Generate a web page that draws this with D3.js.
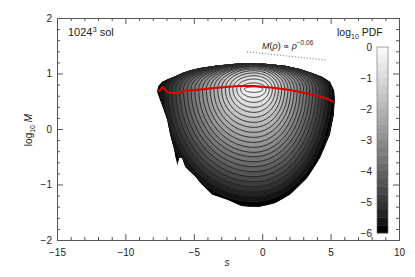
<!DOCTYPE html>
<html>
<head>
<meta charset="utf-8">
<script src="https://cdn.jsdelivr.net/npm/d3@7"></script>
<style>
  body { margin: 0; background: #fff; }
  svg { display: block; }
  text { font-family: "Liberation Sans", Arial, sans-serif; fill: #222; }
</style>
</head>
<body>
<div id="chart"></div>
<script>
// axis ticks
const xMajor = [-15, -10, -5, 0, 5, 10];
const xMinor = [-14, -13, -12, -11, -9, -8, -7, -6, -4, -3, -2, -1, 1, 2, 3, 4, 6, 7, 8, 9];
const yMajor = [-2, -1, 0, 1, 2];
const yMinor = [-1.8, -1.6, -1.4, -1.2, -0.8, -0.6, -0.4, -0.2, 0.2, 0.4, 0.6, 0.8, 1.2, 1.4, 1.6, 1.8];
const cbTicks = [0, -1, -2, -3, -4, -5, -6];

// PDF contour rings (log10 PDF level, extents in s and log10 M)
const ringCenter = [-0.6, 0.72];
const ringLevels = [-0.25, -0.5, -0.75, -1, -1.25, -1.5, -1.75, -2, -2.25, -2.5, -2.75, -3,
  -3.25, -3.5, -3.75, -4, -4.25, -4.5, -4.75, -5, -5.25, -5.5, -5.75, -6];
const ringLeft = [-1.30, -1.58, -1.86, -2.14, -2.41, -2.69, -2.97, -3.25, -3.53, -3.80, -4.08, -4.36,
  -4.64, -4.92, -5.20, -5.47, -5.75, -6.03, -6.31, -6.59, -6.87, -7.14, -7.42, -7.70];
const ringRight = [0.05, 0.28, 0.51, 0.74, 0.96, 1.19, 1.42, 1.65, 1.88, 2.10, 2.33, 2.56,
  2.79, 3.02, 3.25, 3.47, 3.70, 3.93, 4.16, 4.39, 4.62, 4.84, 5.07, 5.30];
const ringTop = [0.76, 0.83, 0.90, 0.96, 1.01, 1.05, 1.08, 1.10, 1.12, 1.13, 1.14, 1.15,
  1.16, 1.165, 1.17, 1.175, 1.18, 1.185, 1.19, 1.195, 1.20, 1.205, 1.21, 1.215];
const ringBottom = [0.66, 0.57, 0.48, 0.39, 0.30, 0.21, 0.12, 0.03, -0.06, -0.15, -0.24, -0.33,
  -0.42, -0.50, -0.59, -0.68, -0.77, -0.86, -0.95, -1.04, -1.13, -1.22, -1.31, -1.40];

// outer edge of the sampled region
const edgeS = [-7.68, -7.60, -7.31, -6.87, -6.36, -5.85, -5.26, -4.53, -3.44, -2.19, -0.88, 0.42,
  1.67, 2.76, 3.64, 4.37, 4.96, 5.25, 5.32, 5.25, 4.96, 4.25, 3.30, 2.05, 0.95, -0.30,
  -1.48, -2.50, -3.67, -4.53, -4.90, -5.41, -5.63, -5.85, -6.07, -6.21, -6.43, -6.72, -6.94, -7.24, -7.46];
const edgeM = [0.67, 0.77, 0.85, 0.90, 0.95, 1.01, 1.06, 1.10, 1.14, 1.17, 1.19, 1.17,
  1.14, 1.08, 1.01, 0.94, 0.85, 0.70, 0.52, 0.25, -0.11, -0.52, -0.88, -1.18, -1.34, -1.41,
  -1.39, -1.28, -1.18, -0.97, -0.85, -0.74, -0.68, -0.52, -0.52, -0.67, -0.38, -0.11, 0.16, 0.38, 0.52];

// mean log10 M in bins of s (red line)
const meanS = [-7.62, -7.25, -6.96, -6.59, -6.15, -5.64, -4.91, -4.18, -3.45, -2.72, -1.62, -0.53,
  0.20, 0.94, 2.03, 3.13, 4.08, 4.81, 5.25];
const meanM = [0.667, 0.757, 0.667, 0.649, 0.649, 0.685, 0.703, 0.721, 0.739, 0.757, 0.775, 0.775,
  0.757, 0.739, 0.703, 0.649, 0.595, 0.541, 0.486];

// power-law guide M ~ rho^-0.06
const guideS = [-1.11, 4.74];
const guideM = [1.39, 1.24];

const W = 415, H = 277;
const x = d3.scaleLinear().domain([-15, 10]).range([57, 399]);
const y = d3.scaleLinear().domain([-2, 2]).range([240, 18]);
const grayLevel = d3.scalePow().exponent(0.8).domain([0, 5.75]).range([0, 248]).clamp(true);
const color = v => { const g = Math.round(grayLevel(v + 5.75)); return d3.rgb(g, g, g).formatHex(); };
const cbY = d3.scaleLinear().domain([0, -6]).range([47, 233]);

const svg = d3.select("#chart").append("svg")
  .attr("width", W).attr("height", H);

const edge = edgeS.map((s, i) => [x(s), y(edgeM[i])]);
svg.append("clipPath").attr("id", "edgeclip")
  .append("path").attr("d", d3.line().curve(d3.curveLinearClosed)(edge));

function ringPath(i) {
  const s0 = ringCenter[0], m0 = ringCenter[1];
  const pts = [];
  for (let a = 0; a < 360; a += 3) {
    const t = a * Math.PI / 180, c = Math.cos(t), sn = -Math.sin(t);
    const rx = c >= 0 ? ringRight[i] - s0 : s0 - ringLeft[i];
    const ry = sn >= 0 ? ringTop[i] - m0 : m0 - ringBottom[i];
    pts.push([
      x(s0 + rx * c),
      y(m0 + ry * sn)
    ]);
  }
  return d3.line().curve(d3.curveLinearClosed)(pts);
}

const field = svg.append("g").attr("clip-path", "url(#edgeclip)");
field.append("path")
  .attr("d", d3.line().curve(d3.curveLinearClosed)(edge))
  .attr("fill", "#000");
field.selectAll("path.ring")
  .data(d3.range(ringLevels.length).reverse())
  .join("path")
  .attr("class", "ring")
  .attr("d", i => ringPath(i))
  .attr("fill", i => color(ringLevels[i] + 0.25))
  .attr("stroke", "#222")
  .attr("stroke-width", 0.9);

// mean line
svg.append("path")
  .datum(meanS.map((s, i) => [s, meanM[i]]))
  .attr("fill", "none")
  .attr("stroke", "#dd0000")
  .attr("stroke-width", 2)
  .attr("d", d3.line().x(d => x(d[0])).y(d => y(d[1])));

// guide
svg.append("line")
  .attr("x1", x(guideS[0])).attr("y1", y(guideM[0]))
  .attr("x2", x(guideS[1])).attr("y2", y(guideM[1]))
  .attr("stroke", "#444").attr("stroke-width", 0.8)
  .attr("stroke-dasharray", "1,2");

const ann = svg.append("text").attr("x", 262).attr("y", 49).attr("font-size", 9);
ann.append("tspan").attr("font-style", "italic").text("M");
ann.append("tspan").text("(");
ann.append("tspan").attr("font-style", "italic").text("ρ");
ann.append("tspan").text(") ∝ ");
ann.append("tspan").attr("font-style", "italic").text("ρ");
ann.append("tspan").attr("font-size", 6.5).attr("dy", -4).text("−0.06");

// colorbar
svg.append("g").selectAll("rect")
  .data(ringLevels)
  .join("rect")
  .attr("x", 377).attr("width", 11)
  .attr("y", d => cbY(d + 0.25))
  .attr("height", d => cbY(d) - cbY(d + 0.25) + 0.3)
  .attr("fill", d => color(d + 0.25));
svg.append("rect")
  .attr("x", 377).attr("y", cbY(0)).attr("width", 11).attr("height", cbY(-6) - cbY(0))
  .attr("fill", "none").attr("stroke", "#666").attr("stroke-width", 0.6);
svg.append("g").selectAll("text")
  .data(cbTicks)
  .join("text")
  .attr("x", 372).attr("y", d => cbY(d)).attr("dy", "0.35em")
  .attr("text-anchor", "end").attr("font-size", 10)
  .text(d => d3.format("d")(d));

const cbTitle = svg.append("text").attr("x", 337).attr("y", 36).attr("font-size", 10.5);
cbTitle.append("tspan").text("log");
cbTitle.append("tspan").attr("font-size", 7).attr("dy", 2.5).text("10");
cbTitle.append("tspan").attr("dy", -2.5).text(" PDF");

// axes
function styleAxis(g) {
  g.selectAll("path.domain").attr("stroke", "#555");
  g.selectAll(".tick line").attr("stroke", "#555");
  g.selectAll(".tick text").attr("font-size", 10).attr("fill", "#222")
    .attr("font-family", "Liberation Sans, Arial, sans-serif");
}
const fmt = d3.format("d");
svg.append("g").attr("transform", "translate(0,240)")
  .call(d3.axisBottom(x).tickValues(xMajor).tickSize(-6).tickSizeOuter(0).tickPadding(9).tickFormat(fmt))
  .call(styleAxis);
svg.append("g").attr("transform", "translate(0,240)")
  .call(d3.axisBottom(x).tickValues(xMinor).tickSize(-3).tickSizeOuter(0).tickFormat(""))
  .call(styleAxis);
svg.append("g").attr("transform", "translate(0,18)")
  .call(d3.axisTop(x).tickValues(xMajor).tickSize(-6).tickSizeOuter(0).tickFormat(""))
  .call(styleAxis);
svg.append("g").attr("transform", "translate(0,18)")
  .call(d3.axisTop(x).tickValues(xMinor).tickSize(-3).tickSizeOuter(0).tickFormat(""))
  .call(styleAxis);
svg.append("g").attr("transform", "translate(57,0)")
  .call(d3.axisLeft(y).tickValues(yMajor).tickSize(-6).tickSizeOuter(0).tickPadding(5).tickFormat(fmt))
  .call(styleAxis);
svg.append("g").attr("transform", "translate(57,0)")
  .call(d3.axisLeft(y).tickValues(yMinor).tickSize(-3).tickSizeOuter(0).tickFormat(""))
  .call(styleAxis);
svg.append("g").attr("transform", "translate(399,0)")
  .call(d3.axisRight(y).tickValues(yMajor).tickSize(-6).tickSizeOuter(0).tickFormat(""))
  .call(styleAxis);
svg.append("g").attr("transform", "translate(399,0)")
  .call(d3.axisRight(y).tickValues(yMinor).tickSize(-3).tickSizeOuter(0).tickFormat(""))
  .call(styleAxis);

// labels
const title = svg.append("text").attr("x", 68).attr("y", 36).attr("font-size", 11);
title.append("tspan").text("1024");
title.append("tspan").attr("font-size", 7.5).attr("dy", -4).text("3");
title.append("tspan").attr("dy", 4).text(" sol");

svg.append("text").attr("x", 227).attr("y", 266)
  .attr("text-anchor", "middle").attr("font-size", 10).attr("font-style", "italic").text("s");

const yl = svg.append("text")
  .attr("transform", "translate(32,130) rotate(-90)")
  .attr("text-anchor", "middle").attr("font-size", 10);
yl.append("tspan").text("log");
yl.append("tspan").attr("font-size", 7).attr("dy", 2.5).text("10");
yl.append("tspan").attr("dy", -2.5).text(" ");
yl.append("tspan").attr("font-style", "italic").text("M");
</script>
</body>
</html>
